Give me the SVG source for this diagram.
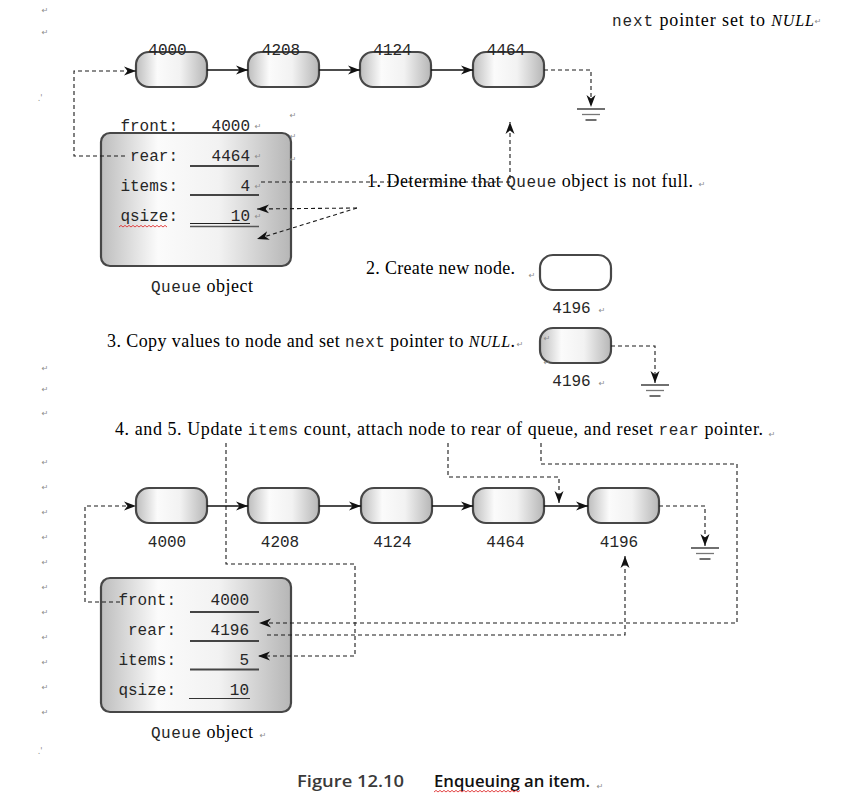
<svg xmlns="http://www.w3.org/2000/svg" width="865" height="805" viewBox="0 0 865 805">
  <defs>
    <linearGradient id="metal" x1="0" y1="0" x2="1" y2="0">
      <stop offset="0" stop-color="#bdbdbd"/>
      <stop offset="0.3" stop-color="#fbfbfb"/>
      <stop offset="0.62" stop-color="#f2f2f2"/>
      <stop offset="1" stop-color="#b6b6b6"/>
    </linearGradient>
    <marker id="ah" viewBox="0 0 12 10" refX="12" refY="5" markerWidth="12" markerHeight="10" markerUnits="userSpaceOnUse" orient="auto">
      <path d="M0,0.5 L12,5 L0,9.5 L3.5,5 Z" fill="#111"/>
    </marker>
    <g id="ground">
      <line x1="-14" y1="0" x2="14" y2="0" stroke="#222" stroke-width="1.3"/>
      <line x1="-9" y1="5.5" x2="9" y2="5.5" stroke="#777" stroke-width="1.3"/>
      <line x1="-5.5" y1="11" x2="5.5" y2="11" stroke="#222" stroke-width="1.3"/>
    </g>
  </defs>
  <style>
    .node { fill: url(#metal); stroke: #474747; stroke-width: 2.2; }
    .blank { fill: #ffffff; stroke: #474747; stroke-width: 2.2; }
    .mono { font-family: 'Liberation Mono', 'Courier New', monospace; font-size: 16px; fill: #262626; }
    .serif { font-family: 'Liberation Serif', 'Times New Roman', serif; font-size: 18px; fill: #000; }
    .pm { font-family: 'DejaVu Sans', sans-serif; font-size: 8px; fill: #8c8c8c; text-anchor: middle; }
    .dash { fill: none; stroke: #1a1a1a; stroke-width: 1.1; stroke-dasharray: 4 3; }
    .solid { fill: none; stroke: #111; stroke-width: 1.5; }
    .uline { stroke: #454545; stroke-width: 2; }
    .lbl { text-anchor: end; }
    .val { text-anchor: end; }
    .cap { font-family: 'Open Sans', 'DejaVu Sans', sans-serif; font-size: 16px; font-weight: 600; }
    .squig { fill: none; stroke: #e03030; stroke-width: 0.9; }
  </style>

  <rect width="865" height="805" fill="#ffffff"/>

  <!-- paragraph marks down the left margin -->
  <g id="margin-marks">
    <text class="pm" x="45" y="13">↵</text>
    <text class="pm" x="45" y="35">↵</text>
    <text class="pm" x="40" y="101" font-size="7">.'</text>
    <text class="pm" x="45" y="371">↵</text>
    <text class="pm" x="45" y="392">↵</text>
    <text class="pm" x="45" y="416">↵</text>
    <text class="pm" x="45" y="465">↵</text>
    <text class="pm" x="45" y="490">↵</text>
    <text class="pm" x="45" y="515">↵</text>
    <text class="pm" x="45" y="540">↵</text>
    <text class="pm" x="45" y="565">↵</text>
    <text class="pm" x="45" y="590">↵</text>
    <text class="pm" x="45" y="615">↵</text>
    <text class="pm" x="45" y="640">↵</text>
    <text class="pm" x="45" y="665">↵</text>
    <text class="pm" x="45" y="690">↵</text>
    <text class="pm" x="45" y="715">↵</text>
    <text class="pm" x="40" y="754" font-size="7">.'</text>
  </g>

  <!-- top list: 4000 -> 4208 -> 4124 -> 4464 -> NULL -->
  <g id="top-node-4000">
    <rect class="node" x="136" y="52" width="71" height="35" rx="13"/>
    <text class="mono" x="167.5" y="55" text-anchor="middle">4000</text>
  </g>
  <g id="top-node-4208">
    <rect class="node" x="248" y="52" width="71" height="35" rx="13"/>
    <text class="mono" x="281" y="55" text-anchor="middle">4208</text>
  </g>
  <g id="top-node-4124">
    <rect class="node" x="360" y="52" width="71" height="35" rx="13"/>
    <text class="mono" x="392.5" y="55" text-anchor="middle">4124</text>
  </g>
  <g id="top-node-4464">
    <rect class="node" x="473" y="52" width="71" height="35" rx="13"/>
    <text class="mono" x="506" y="55" text-anchor="middle">4464</text>
  </g>
  <g id="top-null">
    <use href="#ground" x="591" y="109"/>
  </g>
  <g id="null-note">
    <text class="serif" x="612" y="26" textLength="202" lengthAdjust="spacing"><tspan class="mono">next</tspan> pointer set to <tspan font-style="italic" font-size="16">NULL</tspan></text>
    <text class="pm" x="818" y="24">↵</text>
  </g>

  <!-- queue object before the enqueue -->
  <g id="queue-before">
    <rect class="node" x="101" y="133" width="190" height="133" rx="9"/>
    <text class="mono lbl" x="178" y="131">front:</text>
    <text class="mono val" x="250" y="131">4000</text>
    <text class="mono lbl" x="178" y="161">rear:</text>
    <text class="mono val" x="250" y="161">4464</text>
    <line class="uline" x1="190" y1="166" x2="259" y2="166"/>
    <text class="mono lbl" x="178" y="191">items:</text>
    <text class="mono val" x="250" y="191">4</text>
    <line class="uline" x1="190" y1="195" x2="259" y2="195"/>
    <text class="mono lbl" x="178" y="221">qsize:</text>
    <text class="mono val" x="250" y="221">10</text>
    <line x1="190" y1="223.5" x2="250" y2="223.5" stroke="#222" stroke-width="1"/>
    <line x1="190" y1="226.5" x2="259" y2="226.5" stroke="#555" stroke-width="1.4"/>
    <path class="squig" d="M119,227 l2,-1.6 l2,1.6 l2,-1.6 l2,1.6 l2,-1.6 l2,1.6 l2,-1.6 l2,1.6 l2,-1.6 l2,1.6 l2,-1.6 l2,1.6 l2,-1.6 l2,1.6 l2,-1.6 l2,1.6 l2,-1.6 l2,1.6 l2,-1.6 l2,1.6 l2,-1.6 l2,1.6 l2,-1.6 l2,1.6"/>
    <text class="serif" x="151" y="292" textLength="102" lengthAdjust="spacing"><tspan class="mono">Queue</tspan> object</text>
    <text class="pm" x="258" y="129">↵</text>
    <text class="pm" x="258" y="159">↵</text>
    <text class="pm" x="258" y="189">↵</text>
    <text class="pm" x="258" y="219">↵</text>
    <text class="pm" x="293" y="118">↵</text>
    <text class="pm" x="293" y="139">↵</text>
    <text class="pm" x="293" y="162">↵</text>
  </g>

  <!-- steps 1 to 3 -->
  <g id="step-1">
    <text class="serif" x="367" y="187" textLength="326" lengthAdjust="spacing">1. Determine that <tspan class="mono">Queue</tspan> object is not full.</text>
    <text class="pm" x="702" y="187">↵</text>
  </g>
  <g id="step-2">
    <text class="serif" x="366" y="274" textLength="149" lengthAdjust="spacing">2. Create new node.</text>
    <text class="pm" x="532" y="278">↵</text>
  </g>
  <g id="new-node">
    <rect class="blank" x="540" y="255" width="71" height="35" rx="13"/>
    <text class="mono" x="571.5" y="313" text-anchor="middle">4196</text>
    <text class="pm" x="602" y="313">↵</text>
  </g>
  <g id="step-3">
    <text class="serif" x="107" y="347" textLength="408" lengthAdjust="spacing">3. Copy values to node and set <tspan class="mono">next</tspan> pointer to <tspan font-style="italic" font-size="16">NULL</tspan>.</text>
    <text class="pm" x="520" y="347">↵</text>
  </g>
  <g id="filled-node">
    <rect class="node" x="540" y="328" width="71" height="35" rx="13"/>
    <text class="pm" x="547" y="341">↵</text>
    <text class="pm" x="547" y="365">↵</text>
    <text class="mono" x="571.5" y="386" text-anchor="middle">4196</text>
    <text class="pm" x="602" y="386">↵</text>
  </g>
  <g id="filled-null">
    <use href="#ground" x="655" y="385"/>
  </g>

  <!-- steps 4 and 5 -->
  <g id="step-4-5">
    <text class="serif" x="115" y="435" textLength="648" lengthAdjust="spacing">4. and 5. Update <tspan class="mono">items</tspan> count, attach node to rear of queue, and reset <tspan class="mono">rear</tspan> pointer.</text>
    <text class="pm" x="772" y="437">↵</text>
  </g>

  <!-- bottom list: 4000 -> 4208 -> 4124 -> 4464 -> 4196 -> NULL -->
  <g id="bottom-node-4000">
    <rect class="node" x="136" y="488" width="71" height="35" rx="13"/>
    <text class="mono" x="167" y="547" text-anchor="middle">4000</text>
  </g>
  <g id="bottom-node-4208">
    <rect class="node" x="248" y="488" width="71" height="35" rx="13"/>
    <text class="mono" x="280" y="547" text-anchor="middle">4208</text>
  </g>
  <g id="bottom-node-4124">
    <rect class="node" x="361" y="488" width="71" height="35" rx="13"/>
    <text class="mono" x="392.5" y="547" text-anchor="middle">4124</text>
  </g>
  <g id="bottom-node-4464">
    <rect class="node" x="473" y="488" width="71" height="35" rx="13"/>
    <text class="mono" x="505.5" y="547" text-anchor="middle">4464</text>
  </g>
  <g id="bottom-node-4196">
    <rect class="node" x="588" y="488" width="71" height="35" rx="13"/>
    <text class="mono" x="619" y="547" text-anchor="middle">4196</text>
  </g>
  <g id="bottom-null">
    <use href="#ground" x="705" y="548"/>
  </g>

  <!-- queue object after the enqueue -->
  <g id="queue-after">
    <rect class="node" x="101" y="578" width="190" height="134" rx="9"/>
    <text class="mono lbl" x="176" y="605">front:</text>
    <text class="mono val" x="249" y="605">4000</text>
    <line class="uline" x1="190" y1="612" x2="259" y2="612"/>
    <text class="mono lbl" x="176" y="635">rear:</text>
    <text class="mono val" x="249" y="635">4196</text>
    <line class="uline" x1="190" y1="641" x2="259" y2="641"/>
    <text class="mono lbl" x="176" y="665">items:</text>
    <text class="mono val" x="249" y="665">5</text>
    <line class="uline" x1="190" y1="669.5" x2="259" y2="669.5"/>
    <text class="mono lbl" x="176" y="695">qsize:</text>
    <text class="mono val" x="249" y="695">10</text>
    <line x1="189" y1="698.5" x2="250" y2="698.5" stroke="#333" stroke-width="1"/>
    <text class="serif" x="151" y="738" textLength="102" lengthAdjust="spacing"><tspan class="mono">Queue</tspan> object</text>
    <text class="pm" x="263" y="738">↵</text>
  </g>

  <!-- pointer links and annotation leaders -->
  <g id="connectors">
    <path class="solid" d="M207,70 H248" marker-end="url(#ah)"/>
    <path class="solid" d="M319,70 H360" marker-end="url(#ah)"/>
    <path class="solid" d="M431,70 H473" marker-end="url(#ah)"/>
    <path class="dash" d="M125,156 H74 V71 H136" marker-end="url(#ah)"/>
    <path class="dash" d="M544,70 H591 V107" marker-end="url(#ah)"/>
    <path class="dash" d="M261,182 H510 V122" marker-end="url(#ah)"/>
    <path class="dash" d="M357,208 L257,209" marker-end="url(#ah)"/>
    <path class="dash" d="M357,208 L257,239" marker-end="url(#ah)"/>
    <path class="dash" d="M611,346 H655 V383" marker-end="url(#ah)"/>
    <path class="solid" d="M207,506 H248" marker-end="url(#ah)"/>
    <path class="solid" d="M319,506 H361" marker-end="url(#ah)"/>
    <path class="solid" d="M432,506 H473" marker-end="url(#ah)"/>
    <path class="solid" d="M544,506 H588" marker-end="url(#ah)"/>
    <path class="dash" d="M120,602 H85 V506 H136" marker-end="url(#ah)"/>
    <path class="dash" d="M226,443 V564 H355 V656 H258" marker-end="url(#ah)"/>
    <path class="dash" d="M448,443 V477 H559 V503" marker-end="url(#ah)"/>
    <path class="dash" d="M541,443 V464 H737 V623 H259" marker-end="url(#ah)"/>
    <path class="dash" d="M267,635 H625 V556" marker-end="url(#ah)"/>
    <path class="dash" d="M659,506 H705 V546" marker-end="url(#ah)"/>
  </g>

  <!-- caption -->
  <g id="caption">
    <text class="cap" x="297" y="787" fill="#3a3a3a" textLength="107" lengthAdjust="spacingAndGlyphs">Figure 12.10</text>
    <text class="cap" x="434" y="787" fill="#111" textLength="156" lengthAdjust="spacingAndGlyphs">Enqueuing an item.</text>
    <path class="squig" d="M434,792 l2,-1.6 l2,1.6 l2,-1.6 l2,1.6 l2,-1.6 l2,1.6 l2,-1.6 l2,1.6 l2,-1.6 l2,1.6 l2,-1.6 l2,1.6 l2,-1.6 l2,1.6 l2,-1.6 l2,1.6 l2,-1.6 l2,1.6 l2,-1.6 l2,1.6 l2,-1.6 l2,1.6 l2,-1.6 l2,1.6 l2,-1.6 l2,1.6 l2,-1.6 l2,1.6 l2,-1.6 l2,1.6 l2,-1.6 l2,1.6 l2,-1.6 l2,1.6 l2,-1.6 l2,1.6 l2,-1.6 l2,1.6 l2,-1.6 l2,1.6 l2,-1.6 l2,1.6 l2,-1.6"/>
    <text class="pm" x="600" y="789">↵</text>
  </g>
</svg>
